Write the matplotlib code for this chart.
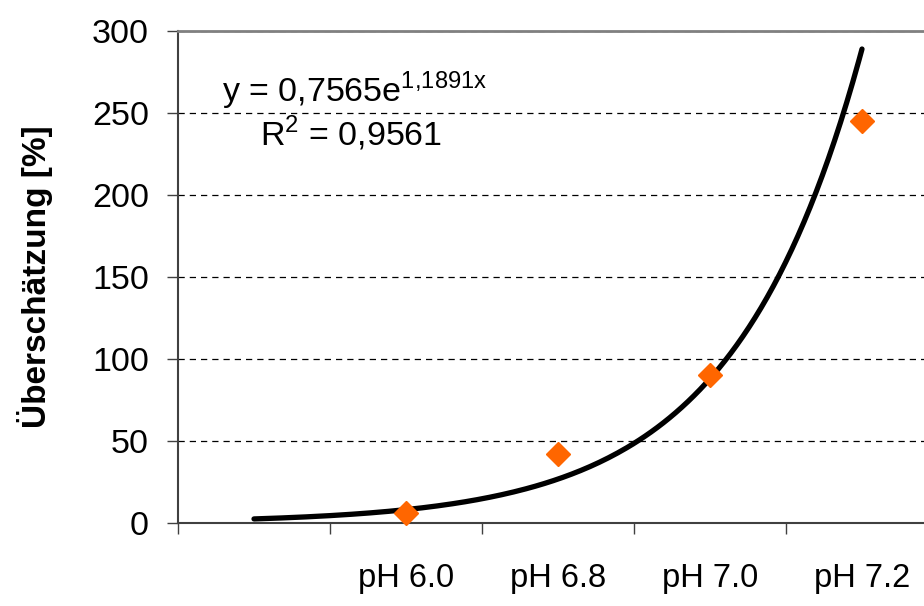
import numpy as np
import matplotlib
matplotlib.use('Agg')
from matplotlib import pyplot as plt

plt.rcParams['font.family'] = ['Liberation Sans', 'DejaVu Sans']
plt.rcParams['mathtext.fontset'] = 'custom'
plt.rcParams['mathtext.rm'] = 'Liberation Sans'

# categories on the x axis (first one has no label / no measurement)
categories = ['', 'pH 6.0', 'pH 6.8', 'pH 7.0', 'pH 7.2']
x_pos = [2, 3, 4, 5]
overestimate = [6, 42, 90, 245]

# exponential trend line y = a * exp(b * x)
fit_a = 0.7565
fit_b = 1.1891
fit_r2 = 0.9561

fig = plt.figure(figsize=(9.24, 6.06), dpi=100)
ax = fig.add_axes([178/924, 83/606, 760/924, 492/606])

xs = np.linspace(1, 5, 200)
ax.plot(xs, fit_a*np.exp(fit_b*xs), color='black', lw=3.8, solid_capstyle='round', zorder=3)
ax.plot(x_pos, overestimate, 'D', color='#FF6600', markersize=12.5, mec='#FF6600', zorder=4, clip_on=False)

ax.set_xlim(0.5, 5.5)
ax.set_ylim(0, 300)
ax.set_yticks(np.arange(0, 301, 50))
ax.yaxis.grid(True, color='black', ls=(0, (5, 4)), lw=0.9)
ax.set_axisbelow(True)

# tick marks between categories, labels centred on categories
ax.set_xticks(np.arange(0.5, 5.6, 1))
ax.set_xticklabels([])
ax.set_xticks(np.arange(1, 6), minor=True)
ax.set_xticklabels(categories, minor=True)
ax.tick_params(axis='x', which='major', direction='out', length=8, width=1, color='#404040')
ax.tick_params(axis='x', which='minor', length=0, pad=29, labelsize=23.5)
ax.tick_params(axis='y', direction='out', length=8, width=1, color='#404040', pad=13, labelsize=24.5)

for s in ['left', 'bottom']:
    ax.spines[s].set_color('#404040')
    ax.spines[s].set_linewidth(1.5)
ax.spines['top'].set_color('#808080')
ax.spines['top'].set_linewidth(2)
ax.spines['right'].set_visible(False)

ax.set_ylabel('Überschätzung [%]', fontsize=24, fontweight='bold', labelpad=28)

ax.text(0.79, 263.5, r'y = 0,7565e$^{\mathrm{1{,}1891x}}$', fontsize=24.5, va='center', ha='left')
ax.text(1.04, 237.5, r'R$^{\mathrm{2}}$ = ' + f'{fit_r2:.4f}'.replace('.', ','), fontsize=24.5, va='center', ha='left')

fig.savefig('out.png', dpi=100)
